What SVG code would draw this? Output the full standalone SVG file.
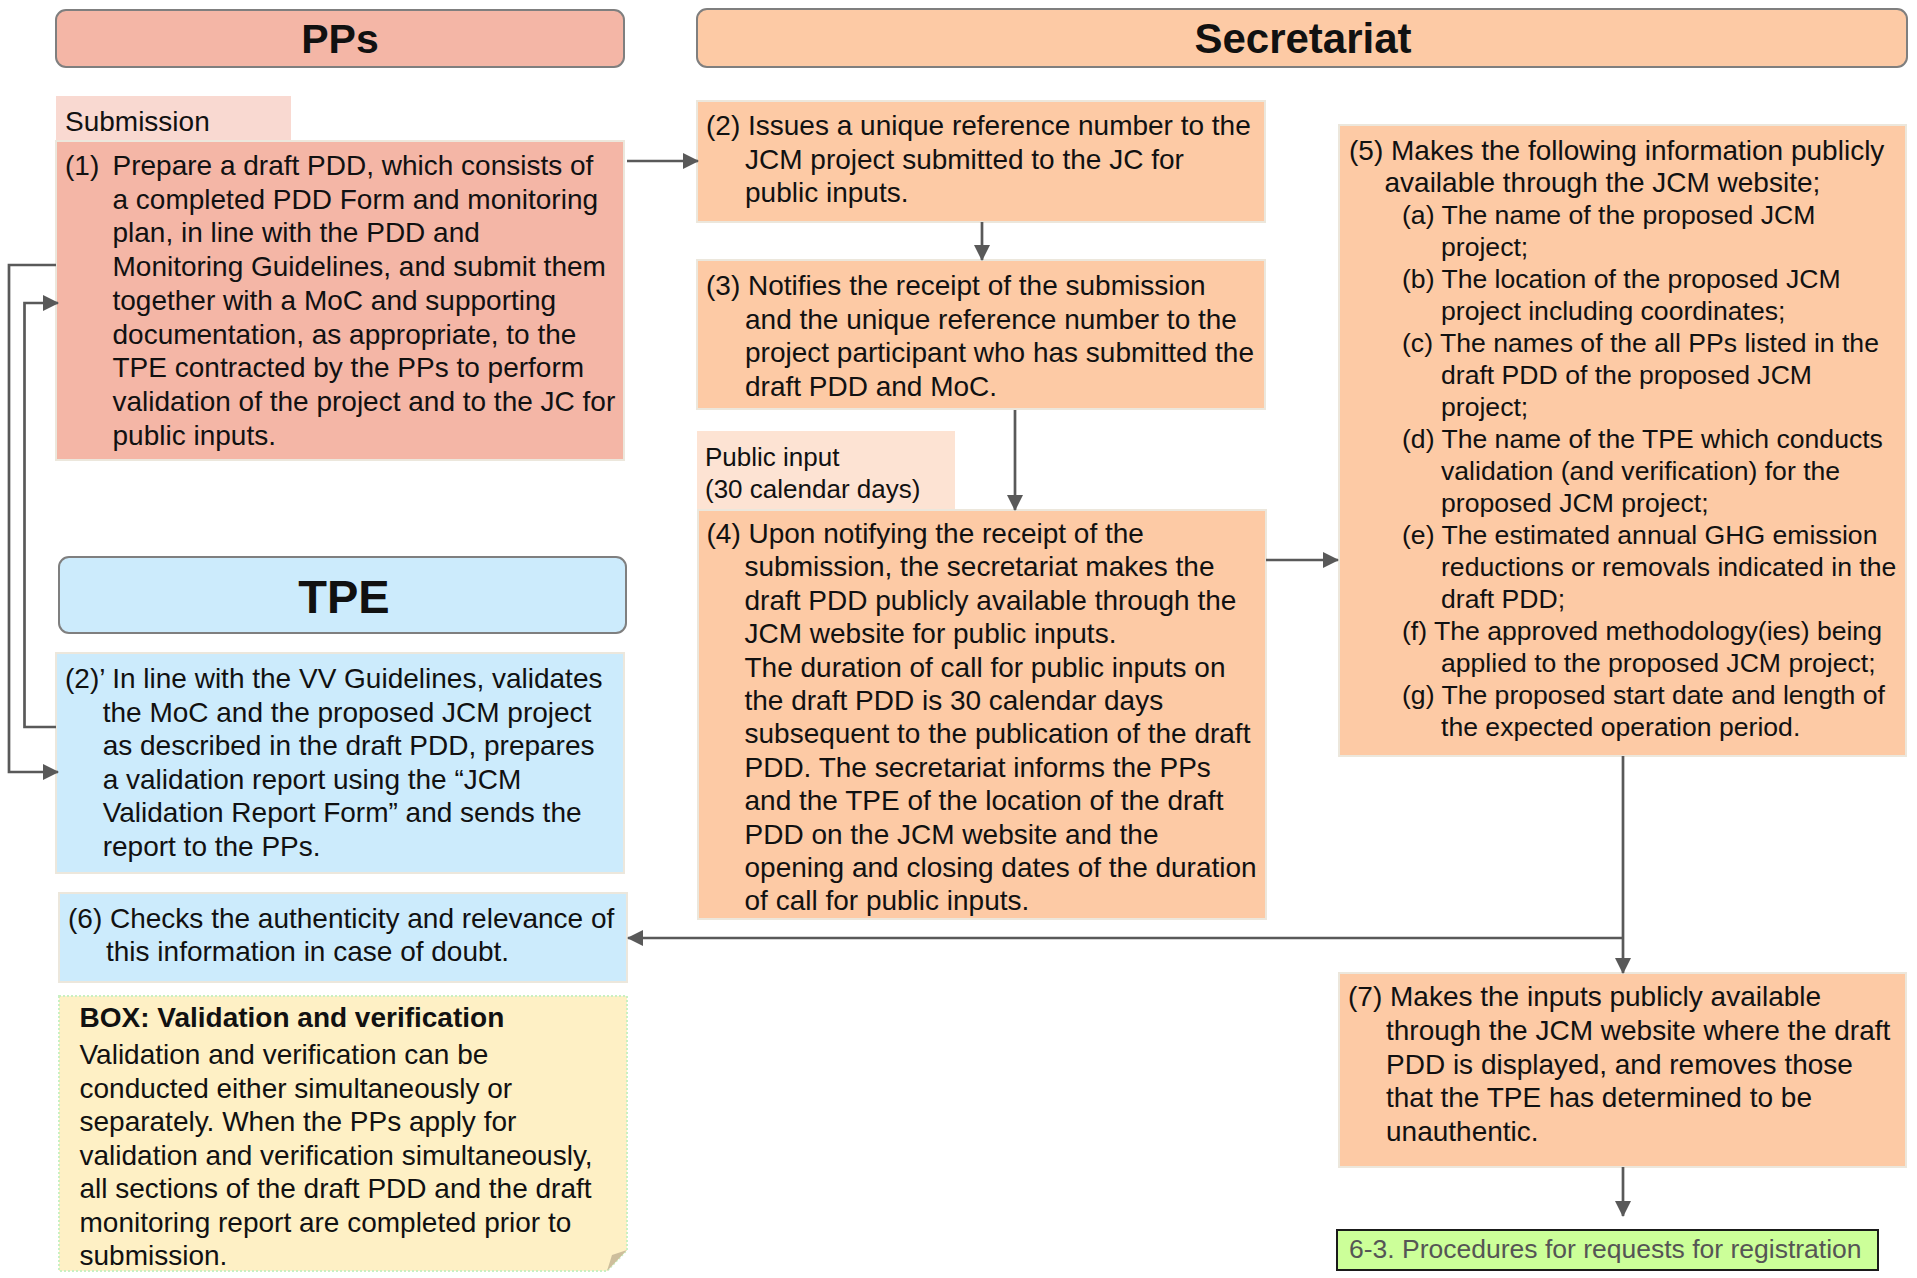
<svg xmlns="http://www.w3.org/2000/svg" width="1917" height="1278" viewBox="0 0 1917 1278">
<defs>
<style>
text{font-family:"Liberation Sans",Arial,sans-serif;fill:#111;}
.t{font-size:28px;}
.s{font-size:26.6px;}
.tab{font-size:26px;}
.hd{font-weight:bold;text-anchor:middle;}
.box{stroke:#ECE7DC;stroke-width:2;}
.pp{fill:#F4B6A6;}
.sec{fill:#FDCAA5;}
.tpe{fill:#CCEBFC;}
.head{stroke:#7F7F7F;stroke-width:2;}
.conn{fill:none;stroke:#595959;stroke-width:2.7;}
</style>
<marker id="ah" markerUnits="userSpaceOnUse" markerWidth="16" markerHeight="16" refX="15" refY="8" orient="auto">
<path d="M0,0 L16,8 L0,16 z" fill="#595959"/>
</marker>
</defs>
<rect width="1917" height="1278" fill="#fff"/>

<g id="hdr-pps">
<rect class="head pp" x="56" y="10" width="568" height="57" rx="10"/>
<text class="hd" x="340" y="53" font-size="41">PPs</text>
</g>
<g id="hdr-secretariat">
<rect class="head sec" x="697" y="9" width="1210" height="58" rx="10"/>
<text class="hd" x="1303" y="53" font-size="42">Secretariat</text>
</g>
<g id="hdr-tpe">
<rect class="head tpe" x="59" y="557" width="567" height="76" rx="10"/>
<text class="hd" x="344" y="613" font-size="47">TPE</text>
</g>

<g id="tab-submission">
<rect x="56" y="96" width="235" height="45" fill="#F9D9D1"/>
<text class="t" x="65" y="131">Submission</text>
</g>

<g id="n1">
<rect class="box pp" x="56" y="141" width="568" height="319"/>
<text class="t" x="65" y="175">(1)</text>
<text class="t" x="112.5" y="175">Prepare a draft PDD, which consists of</text>
<text class="t" x="112.5" y="208.7">a completed PDD Form and monitoring</text>
<text class="t" x="112.5" y="242.4">plan, in line with the PDD and</text>
<text class="t" x="112.5" y="276.1">Monitoring Guidelines, and submit them</text>
<text class="t" x="112.5" y="309.8">together with a MoC and supporting</text>
<text class="t" x="112.5" y="343.5">documentation, as appropriate, to the</text>
<text class="t" x="112.5" y="377.2">TPE contracted by the PPs to perform</text>
<text class="t" x="112.5" y="410.9">validation of the project and to the JC for</text>
<text class="t" x="112.5" y="444.6">public inputs.</text>
</g>

<g id="n2">
<rect class="box sec" x="697" y="101" width="568" height="121"/>
<text class="t" x="706" y="135">(2) Issues a unique reference number to the</text>
<text class="t" x="745" y="168.5">JCM project submitted to the JC for</text>
<text class="t" x="745" y="202">public inputs.</text>
</g>

<g id="n3">
<rect class="box sec" x="697" y="260" width="568" height="149"/>
<text class="t" x="706" y="295">(3) Notifies the receipt of the submission</text>
<text class="t" x="745" y="328.5">and the unique reference number to the</text>
<text class="t" x="745" y="362">project participant who has submitted the</text>
<text class="t" x="745" y="395.5">draft PDD and MoC.</text>
</g>

<g id="tab-public-input">
<rect x="697" y="431" width="258" height="79" fill="#FDE3D3"/>
<text class="tab" x="705" y="466">Public input</text>
<text class="tab" x="705" y="498">(30 calendar days)</text>
</g>

<g id="n4">
<rect class="box sec" x="698" y="510" width="568" height="409"/>
<text class="t" x="706.5" y="543">(4) Upon notifying the receipt of the</text>
<text class="t" x="744.5" y="576.4">submission, the secretariat makes the</text>
<text class="t" x="744.5" y="609.8">draft PDD publicly available through the</text>
<text class="t" x="744.5" y="643.2">JCM website for public inputs.</text>
<text class="t" x="744.5" y="676.6">The duration of call for public inputs on</text>
<text class="t" x="744.5" y="710">the draft PDD is 30 calendar days</text>
<text class="t" x="744.5" y="743.4">subsequent to the publication of the draft</text>
<text class="t" x="744.5" y="776.8">PDD. The secretariat informs the PPs</text>
<text class="t" x="744.5" y="810.2">and the TPE of the location of the draft</text>
<text class="t" x="744.5" y="843.6">PDD on the JCM website and the</text>
<text class="t" x="744.5" y="877">opening and closing dates of the duration</text>
<text class="t" x="744.5" y="910.4">of call for public inputs.</text>
</g>

<g id="n5">
<rect class="box sec" x="1339" y="125" width="567" height="631"/>
<text class="t" x="1349" y="160">(5) Makes the following information publicly</text>
<text class="t" x="1384.5" y="192">available through the JCM website;</text>
<text class="s" x="1402" y="224">(a) The name of the proposed JCM</text>
<text class="s" x="1441" y="256">project;</text>
<text class="s" x="1402" y="288">(b) The location of the proposed JCM</text>
<text class="s" x="1441" y="320">project including coordinates;</text>
<text class="s" x="1402" y="352">(c) The names of the all PPs listed in the</text>
<text class="s" x="1441" y="384">draft PDD of the proposed JCM</text>
<text class="s" x="1441" y="416">project;</text>
<text class="s" x="1402" y="448">(d) The name of the TPE which conducts</text>
<text class="s" x="1441" y="480">validation (and verification) for the</text>
<text class="s" x="1441" y="512">proposed JCM project;</text>
<text class="s" x="1402" y="544">(e) The estimated annual GHG emission</text>
<text class="s" x="1441" y="576">reductions or removals indicated in the</text>
<text class="s" x="1441" y="608">draft PDD;</text>
<text class="s" x="1402" y="640">(f) The approved methodology(ies) being</text>
<text class="s" x="1441" y="672">applied to the proposed JCM project;</text>
<text class="s" x="1402" y="704">(g) The proposed start date and length of</text>
<text class="s" x="1441" y="736">the expected operation period.</text>
</g>

<g id="n2p">
<rect class="box tpe" x="56" y="653" width="568" height="220"/>
<text class="t" x="65" y="688">(2)’ In line with the VV Guidelines, validates</text>
<text class="t" x="102.7" y="721.5">the MoC and the proposed JCM project</text>
<text class="t" x="102.7" y="755">as described in the draft PDD, prepares</text>
<text class="t" x="102.7" y="788.5">a validation report using the “JCM</text>
<text class="t" x="102.7" y="822">Validation Report Form” and sends the</text>
<text class="t" x="102.7" y="855.5">report to the PPs.</text>
</g>

<g id="n6">
<rect class="box tpe" x="59" y="893" width="568" height="89"/>
<text class="t" x="68" y="928">(6) Checks the authenticity and relevance of</text>
<text class="t" x="106" y="961">this information in case of doubt.</text>
</g>

<g id="box-vv">
<path d="M59,996 H627 V1250 L607,1271 H59 Z" fill="#FEF0C5" stroke="#C9F0C2" stroke-width="2" stroke-dasharray="2,2"/>
<path d="M627,1250 L607,1271 L612,1255 Z" fill="#CDBE9C"/>
<text class="t" x="79.5" y="1027" font-weight="bold">BOX: Validation and verification</text>
<text class="t" x="79.5" y="1064">Validation and verification can be</text>
<text class="t" x="79.5" y="1097.5">conducted either simultaneously or</text>
<text class="t" x="79.5" y="1131">separately. When the PPs apply for</text>
<text class="t" x="79.5" y="1164.5">validation and verification simultaneously,</text>
<text class="t" x="79.5" y="1198">all sections of the draft PDD and the draft</text>
<text class="t" x="79.5" y="1231.5">monitoring report are completed prior to</text>
<text class="t" x="79.5" y="1265">submission.</text>
</g>

<g id="n7">
<rect class="box sec" x="1339" y="973" width="567" height="194"/>
<text class="t" x="1348" y="1006">(7) Makes the inputs publicly available</text>
<text class="t" x="1386" y="1040">through the JCM website where the draft</text>
<text class="t" x="1386" y="1073.5">PDD is displayed, and removes those</text>
<text class="t" x="1386" y="1107">that the TPE has determined to be</text>
<text class="t" x="1386" y="1141">unauthentic.</text>
</g>

<g id="n6-3">
<rect x="1337" y="1230" width="541" height="40" fill="#CCFF99" stroke="#1A1A1A" stroke-width="2"/>
<text x="1349" y="1258" font-size="26.5" style="fill:#555">6-3. Procedures for requests for registration</text>
</g>

<g id="connectors">
<path class="conn" d="M627,161 H698" marker-end="url(#ah)"/>
<path class="conn" d="M982,222 V260" marker-end="url(#ah)"/>
<path class="conn" d="M1015,410 V510" marker-end="url(#ah)"/>
<path class="conn" d="M1266,560 H1338" marker-end="url(#ah)"/>
<path class="conn" d="M1623,756 V973" marker-end="url(#ah)"/>
<path class="conn" d="M1623,938 H628" marker-end="url(#ah)"/>
<path class="conn" d="M1623,1167 V1216" marker-end="url(#ah)"/>
<path class="conn" d="M56,265 H9 V772 H58" marker-end="url(#ah)"/>
<path class="conn" d="M56,727 H24.5 V303 H58" marker-end="url(#ah)"/>
</g>
</svg>
